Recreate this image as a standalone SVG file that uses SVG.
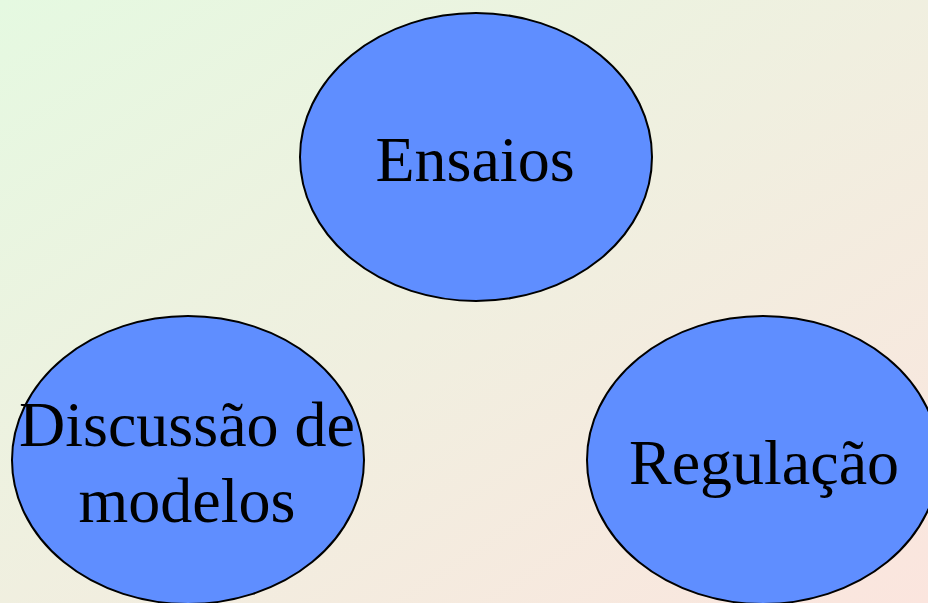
<svg xmlns="http://www.w3.org/2000/svg" width="928" height="603" viewBox="0 0 928 603">
<defs>
<linearGradient id="bg" x1="0" y1="0" x2="1" y2="1">
<stop offset="0" stop-color="#e5f9e1"/>
<stop offset="1" stop-color="#fbe5de"/>
</linearGradient>
<style>
.node ellipse{fill:#5f8eff;stroke:#000;stroke-width:2}
.node text{font-family:"Liberation Serif","Times New Roman",serif;font-size:64px;fill:#000;text-anchor:middle}
</style>
</defs>
<rect width="928" height="603" fill="url(#bg)"/>
<g id="connectors"></g>
<g id="node-ensaios" class="node">
<ellipse cx="476" cy="157" rx="176" ry="144"/>
<text x="475" y="181">Ensaios</text>
</g>
<g id="node-discussao" class="node">
<ellipse cx="188" cy="460" rx="176" ry="144"/>
<text x="187" y="446">Discussão de</text>
<text x="187" y="522">modelos</text>
</g>
<g id="node-regulacao" class="node">
<ellipse cx="763" cy="460" rx="176" ry="144"/>
<text x="764" y="484">Regulação</text>
</g>
</svg>
